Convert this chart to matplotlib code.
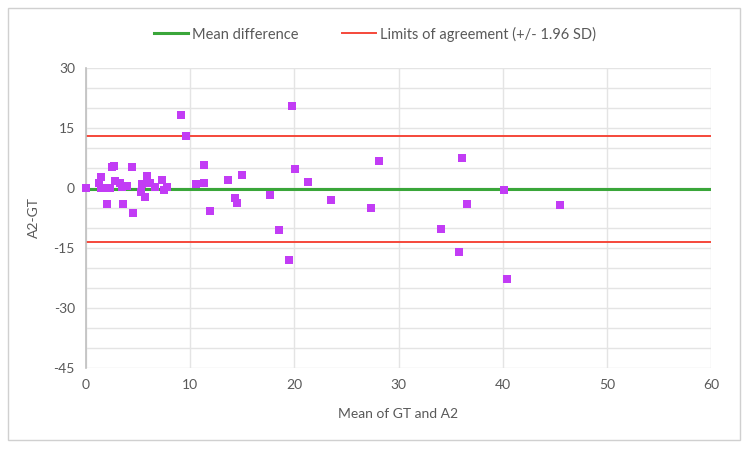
import numpy as np
import matplotlib.pyplot as plt
from matplotlib.lines import Line2D
from matplotlib.patches import Rectangle

plt.rcParams['font.family'] = ['Lato', 'DejaVu Sans']
plt.rcParams['axes.unicode_minus'] = False

# Bland-Altman data
mean_gt_a2 = [0.0, 1.40, 1.28, 1.44, 1.91, 2.33, 1.98, 2.52, 2.71, 2.75,
              3.30, 3.45, 3.57, 3.98, 4.37, 4.53, 5.25, 5.33, 5.65, 5.90,
              6.15, 6.60, 7.25, 7.50, 7.78, 9.12, 9.63, 10.53, 11.29, 11.36,
              11.93, 13.65, 14.35, 14.48, 14.93, 17.67, 18.56, 19.52, 19.74, 20.06,
              21.27, 23.56, 27.35, 28.17, 34.07, 35.82, 36.05, 36.60, 40.13, 40.38,
              45.49]
diff_a2_gt = [0.0, 2.8, 1.3, 0.1, 0.0, 0.0, -3.9, 5.2, 5.5, 1.7,
              1.3, 0.2, -4.1, 0.5, 5.3, -6.2, -1.1, 0.9, -2.2, 3.1,
              1.3, 0.2, 2.1, -0.4, 0.3, 18.3, 12.9, 1.1, 5.7, 1.3,
              -5.8, 2.0, -2.4, -3.7, 3.2, -1.7, -10.4, -18.0, 20.5, 4.7,
              1.5, -2.9, -4.9, 6.8, -10.2, -15.9, 7.4, -3.9, -0.6, -22.8,
              -4.3]
mean_diff = -0.2
upper_loa = 13.1
lower_loa = -13.5

x_ticks = [0, 10, 20, 30, 40, 50, 60]
y_ticks = [-45, -30, -15, 0, 15, 30]

txt = '#595959'
grid = '#e4e4e4'

fig = plt.figure(figsize=(7.5, 4.51), dpi=100)
# outer chart frame
fig.patches.append(Rectangle((8/750, 1-440/451), 732/750, 432/451, transform=fig.transFigure,
                             fill=False, edgecolor='#d0d0d0', linewidth=1.0))

ax = fig.add_axes([86/750, 1-368/451, 625/750, 300/451])
ax.set_xlim(0, 60)
ax.set_ylim(-45, 30)
ax.set_xticks(x_ticks)
ax.set_yticks(y_ticks)
ax.set_yticks(np.arange(-45, 31, 5), minor=True)
ax.grid(True, which='both', axis='y', color=grid, linewidth=1.0)
ax.grid(True, which='major', axis='x', color=grid, linewidth=1.0)
ax.set_axisbelow(True)
for s in ['top', 'right', 'bottom']:
    ax.spines[s].set_visible(False)
ax.spines['left'].set_color('#bfbfbf')
ax.spines['left'].set_linewidth(1.2)
ax.tick_params(which='both', length=0, labelsize=10, labelcolor=txt, pad=8)

ax.axhline(mean_diff, color='#3aa63a', linewidth=2.2, zorder=2)
ax.axhline(upper_loa, color='#f5483a', linewidth=1.4, zorder=2)
ax.axhline(lower_loa, color='#f5483a', linewidth=1.4, zorder=2)
ax.scatter(mean_gt_a2, diff_a2_gt, marker='s', s=32, color='#c23cf5', zorder=3,
           clip_on=False, linewidths=0)

ax.set_xlabel('Mean of GT and A2', fontsize=10, color=txt, labelpad=12)
ax.set_ylabel('A2-GT', fontsize=10, color=txt, labelpad=10)

handles = [Line2D([], [], color='#3aa63a', linewidth=2.2),
           Line2D([], [], color='#f5483a', linewidth=1.4)]
leg = fig.legend(handles, ['Mean difference', 'Limits of agreement (+/- 1.96 SD)'],
                 loc='center', bbox_to_anchor=(0.5, 1-34/451), ncol=2, frameon=False,
                 fontsize=10.5, handlelength=2.3, handletextpad=0.3, columnspacing=3.0)
for t in leg.get_texts():
    t.set_color(txt)

fig.savefig('out.png', dpi=100)
